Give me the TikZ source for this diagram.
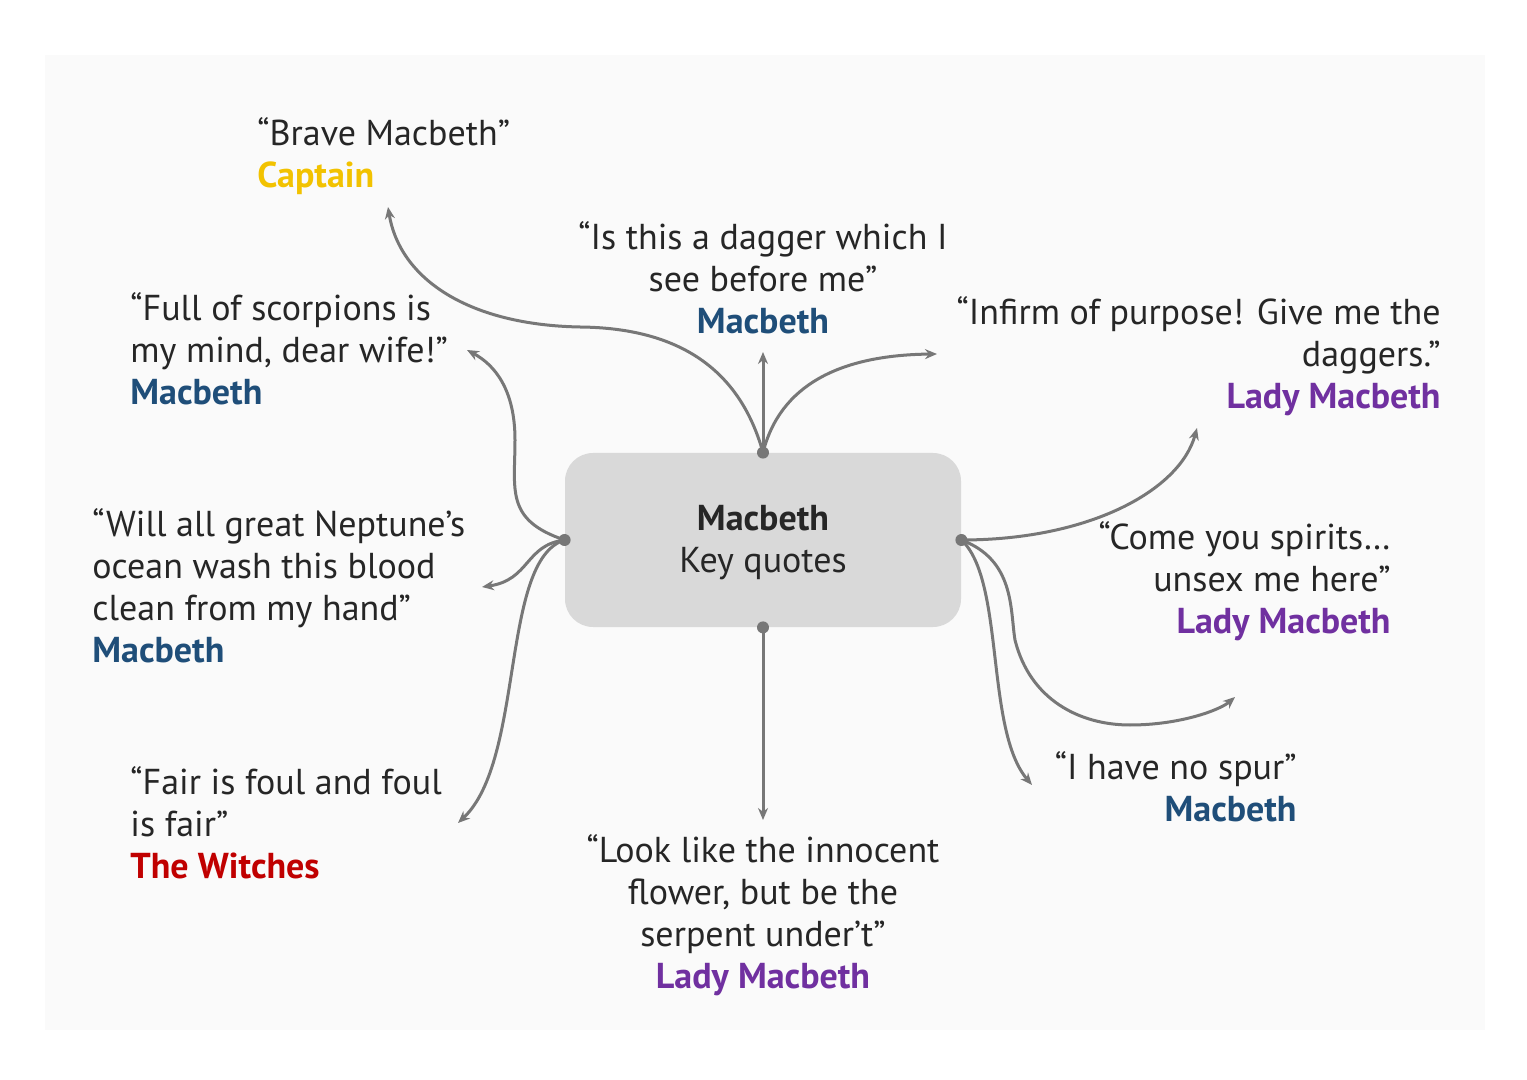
\documentclass[tikz,border=0pt]{standalone}
\usepackage{fontspec}
\setmainfont{PT Sans}
\usetikzlibrary{arrows.meta}
\definecolor{lc}{HTML}{777777}
\definecolor{cblue}{HTML}{1F4E79}
\definecolor{cpurple}{HTML}{7030A0}
\definecolor{cred}{HTML}{C00000}
\definecolor{cgold}{HTML}{F2C200}
\begin{document}
\begin{tikzpicture}[x=0.5pt,y=-0.5pt,
  conn/.style={draw=lc,line width=1.5pt,-{Stealth[length=6pt,width=5pt]}},
  pt/.style={circle,fill=lc,inner sep=0,minimum size=6pt},
  q/.style={inner sep=0,font=\fontsize{18}{21}\selectfont,text=black!85},
  who/.style={font=\bfseries}]
\useasboundingbox (0,0) rectangle (1527,1080);
\fill[black!2] (45,55) rectangle (1485,1030);
\node[fill=black!15,rounded corners=14pt,minimum width=198pt,minimum height=87pt,inner sep=0] (c) at (763,540) {};
\node[q,align=center,anchor=base] (ct) at (763,573) {\textbf{Macbeth}\\Key quotes};
\node[pt] (pt) at (c.north) {};
\node[pt] (pl) at (c.west) {};
\node[pt] (pr) at (c.east) {};
\node[pt] (pb) at (c.south) {};
\coordinate (e1) at (388,207);
\coordinate (e2) at (763,352);
\coordinate (e3) at (937,354);
\coordinate (e4) at (467,350);
\coordinate (e5) at (482,587);
\coordinate (e6) at (458,823);
\coordinate (e7) at (1197,428);
\coordinate (e8) at (1235,697);
\coordinate (e9) at (1032,785);
\coordinate (e10) at (763,820);
\draw[conn] (pt.center) .. controls (740,370) and (680,328) .. (580,327) .. controls (470,325) and (400,280) .. (e1);
\draw[conn] (pt.center) -- (e2);
\draw[conn] (pt.center) .. controls (780,385) and (840,355) .. (e3);
\draw[conn] (pl.center) .. controls (505,520) and (515,490) .. (515,440) .. controls (515,390) and (495,365) .. (e4);
\draw[conn] (pl.center) .. controls (525,545) and (530,580) .. (e5);
\draw[conn] (pl.center) .. controls (500,560) and (525,760) .. (e6);
\draw[conn] (pr.center) .. controls (1090,540) and (1180,490) .. (e7);
\draw[conn] (pr.center) .. controls (1015,560) and (1010,610) .. (1015,640) .. controls (1030,700) and (1080,725) .. (1130,725) .. controls (1180,725) and (1220,710) .. (e8);
\draw[conn] (pr.center) .. controls (1005,580) and (985,730) .. (e9);
\draw[conn] (pb.center) -- (e10);
\node[q,align=left,anchor=base west] (t1) at (257,188) {“Brave Macbeth”\\\textcolor{cgold}{\textbf{Captain}}};
\node[q,align=center,anchor=base] (t2) at (763,334) {“Is this a dagger which I\\see before me”\\\textcolor{cblue}{\textbf{Macbeth}}};
\node[q,align=left,anchor=base west] (t3) at (130,405) {“Full of scorpions is\\my mind, dear wife!”\\\textcolor{cblue}{\textbf{Macbeth}}};
\node[q,align=right,anchor=base east] (t4) at (1441,409) {“Infirm of purpose! Give me the\\daggers.”\\\textcolor{cpurple}{\textbf{Lady Macbeth}}};
\node[q,align=left,anchor=base west] (t5) at (92,662) {“Will all great Neptune’s\\ocean wash this blood\\clean from my hand”\\\textcolor{cblue}{\textbf{Macbeth}}};
\node[q,align=right,anchor=base east] (t6) at (1391,633) {“Come you spirits…\\unsex me here”\\\textcolor{cpurple}{\textbf{Lady Macbeth}}};
\node[q,align=left,anchor=base west] (t7) at (130,878) {“Fair is foul and foul\\is fair”\\\textcolor{cred}{\textbf{The Witches}}};
\node[q,align=right,anchor=base east] (t8) at (1297,821) {“I have no spur”\\\textcolor{cblue}{\textbf{Macbeth}}};
\node[q,align=center,anchor=base] (t9) at (763,988) {“Look like the innocent\\flower, but be the\\serpent under’t”\\\textcolor{cpurple}{\textbf{Lady Macbeth}}};
\end{tikzpicture}
\end{document}
